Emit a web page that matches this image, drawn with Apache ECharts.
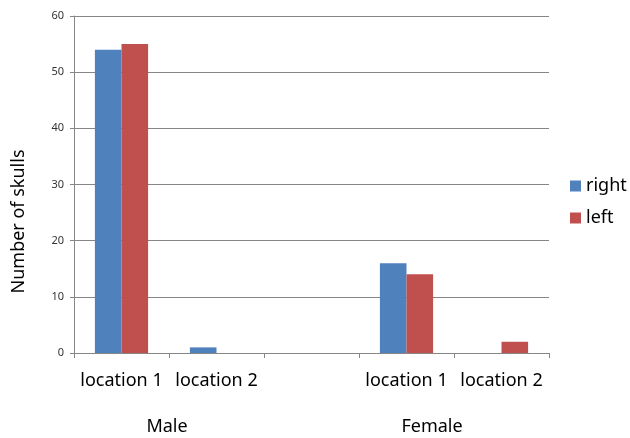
<!DOCTYPE html>
<html>
<head>
<meta charset="utf-8">
<script src="https://cdn.jsdelivr.net/npm/echarts@6/dist/echarts.min.js"></script>
<style>
  html, body { margin: 0; padding: 0; background: #fff; }
  #chart { width: 630px; height: 438px; }
</style>
</head>
<body>
<div id="chart"></div>
<script>
// Skull counts by sex and location; the empty slot separates the two sex groups
const categories = ['location 1', 'location 2', '', 'location 1', 'location 2'];
const rightValues = [54, 1, null, 16, null];
const leftValues = [55, null, null, 14, 2];
const groupNames = ['Male', 'Female'];
const yTicks = [0, 10, 20, 30, 40, 50, 60];

const FONT = '"Noto Sans", "Liberation Sans", sans-serif';
const chart = echarts.init(document.getElementById('chart'), null, { renderer: 'canvas' });

chart.setOption({
  animation: false,
  backgroundColor: '#ffffff',
  textStyle: { fontFamily: FONT },
  grid: { left: 74, right: 81, top: 16, bottom: 85, containLabel: false },
  legend: {
    orient: 'vertical',
    left: 565,
    top: 172,
    itemWidth: 11,
    itemHeight: 11,
    itemGap: 14,
    icon: 'rect',
    textStyle: { fontFamily: FONT, fontSize: 18, color: '#000' },
    data: ['right', 'left']
  },
  xAxis: {
    type: 'category',
    data: categories,
    axisLine: { show: true, lineStyle: { color: '#868686', width: 1 } },
    axisTick: { show: true, alignWithLabel: false, length: 5, lineStyle: { color: '#868686' } },
    axisLabel: { interval: 0, margin: 19, fontSize: 18, color: '#000', fontFamily: FONT }
  },
  yAxis: {
    type: 'value',
    min: yTicks[0],
    max: yTicks[yTicks.length - 1],
    interval: 10,
    name: 'Number of skulls',
    nameLocation: 'middle',
    nameGap: 46,
    nameRotate: 90,
    nameTextStyle: { fontSize: 18, color: '#000', fontFamily: FONT, padding: [0, 0, 0, -74] },
    axisLine: { show: true, lineStyle: { color: '#868686', width: 1 } },
    axisTick: { show: true, length: 4, lineStyle: { color: '#868686' } },
    axisLabel: { fontSize: 11, color: '#333', margin: 10, fontFamily: FONT },
    splitLine: { show: true, lineStyle: { color: '#868686', width: 1 } }
  },
  series: [
    {
      name: 'right',
      type: 'bar',
      data: rightValues,
      barGap: '0%',
      barCategoryGap: '44%',
      itemStyle: { color: '#4F81BD' }
    },
    {
      name: 'left',
      type: 'bar',
      data: leftValues,
      barGap: '0%',
      barCategoryGap: '44%',
      itemStyle: { color: '#C0504D' }
    }
  ],
  graphic: [
    {
      type: 'text',
      x: 167,
      y: 427,
      style: { text: groupNames[0], fontSize: 18, fill: '#000', fontFamily: FONT, align: 'center', verticalAlign: 'middle' }
    },
    {
      type: 'text',
      x: 432,
      y: 427,
      style: { text: groupNames[1], fontSize: 18, fill: '#000', fontFamily: FONT, align: 'center', verticalAlign: 'middle' }
    }
  ]
});
</script>
</body>
</html>
